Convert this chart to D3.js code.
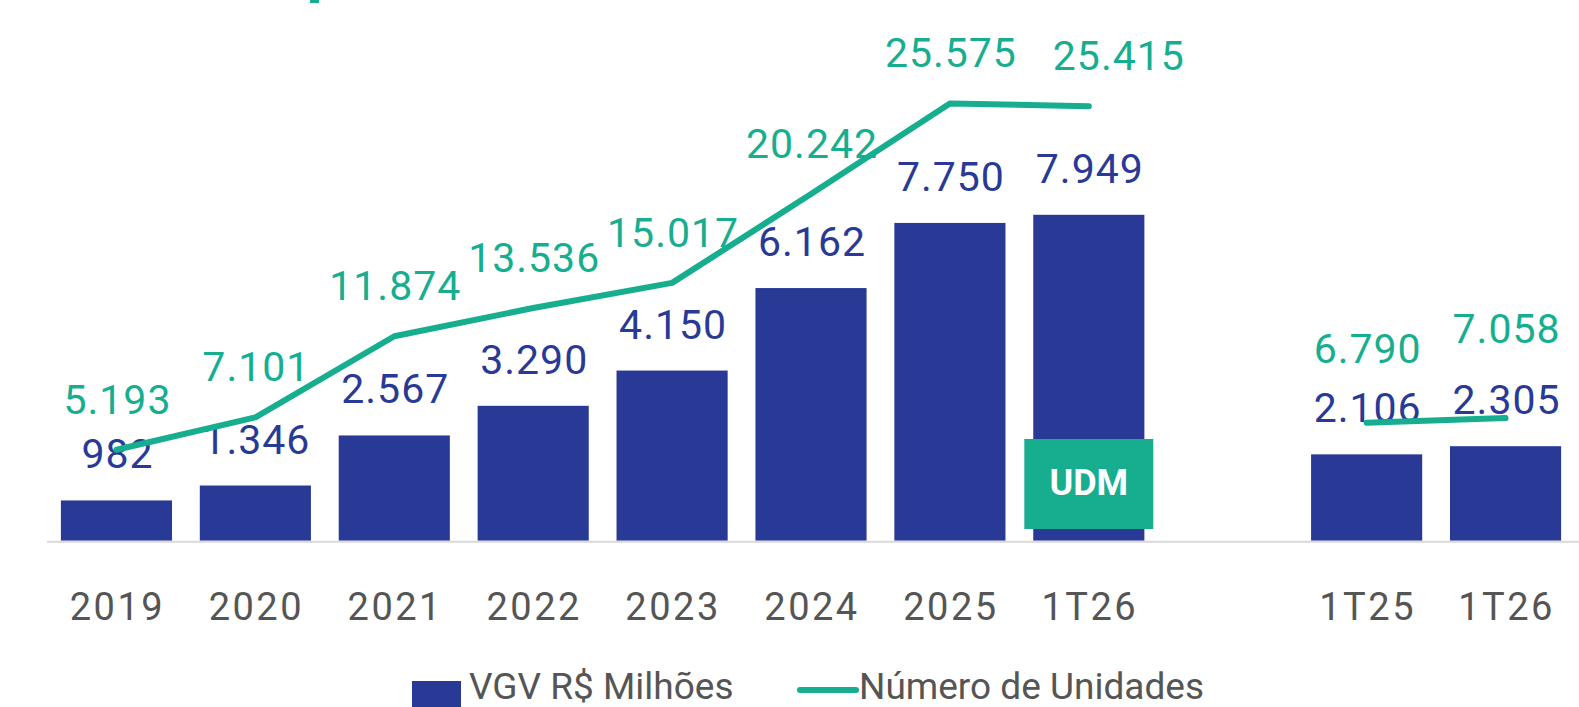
<!DOCTYPE html>
<html>
<head>
<meta charset="utf-8">
<script src="https://cdn.jsdelivr.net/npm/d3@7"></script>
<style>
  html, body { margin: 0; padding: 0; background: #fff; }
  text { font-family: Roboto, "Liberation Sans", sans-serif; }
</style>
</head>
<body>
<div id="chart"></div>
<script>
// categories (the "gap" slot separates the annual block from the quarters)
const keys = ['2019', '2020', '2021', '2022', '2023', '2024', '2025', '1T26-UDM', 'gap', '1T25', '1T26'];
const tickLabels = ['2019', '2020', '2021', '2022', '2023', '2024', '2025', '1T26', '', '1T25', '1T26'];
// VGV R$ Milhões
const vgv = [982, 1346, 2567, 3290, 4150, 6162, 7750, 7949, null, 2106, 2305];
// Número de Unidades
const units = [5193, 7101, 11874, 13536, 15017, 20242, 25575, 25415, null, 6790, 7058];

const navy = '#283a96';
const teal = '#16ae8f';
const grey = '#555555';

const width = 1579;
const height = 707;
const baseY = 540.7;

const fmt = d3.formatLocale({ decimal: ',', thousands: '.', grouping: [3], currency: ['R$', ''] }).format(',d');

const data = keys.map((k, i) => ({ key: k, label: tickLabels[i], vgv: vgv[i], units: units[i] }));

const svg = d3.select('#chart')
  .append('svg')
  .attr('width', width)
  .attr('height', height)
  .style('background', '#fff');

const x = d3.scaleBand()
  .domain(keys)
  .range([47, 1575])
  .paddingInner(0.2)
  .paddingOuter(0.1);

const yBar = d3.scaleLinear()
  .domain([0, 10000])
  .range([baseY, baseY - 410]);

const yLine = d3.scaleLinear()
  .domain([0, 30000])
  .range([538, 28.3]);

// little cut-off title mark at the very top
svg.append('rect')
  .attr('x', 310).attr('y', 0)
  .attr('width', 9).attr('height', 3)
  .attr('fill', teal);

// bars
svg.selectAll('.bar')
  .data(data.filter(d => d.vgv != null))
  .enter()
  .append('rect')
  .attr('class', 'bar')
  .attr('x', d => x(d.key))
  .attr('y', d => yBar(d.vgv))
  .attr('width', x.bandwidth())
  .attr('height', d => baseY - yBar(d.vgv))
  .attr('fill', navy);

// baseline
svg.append('line')
  .attr('x1', 47).attr('x2', width)
  .attr('y1', baseY + 1).attr('y2', baseY + 1)
  .attr('stroke', '#d9d9d9')
  .attr('stroke-width', 2);

// UDM tag on the trailing twelve months bar
const udmCx = x('1T26-UDM') + x.bandwidth() / 2;
svg.append('rect')
  .attr('x', udmCx - 64.5)
  .attr('y', 439)
  .attr('width', 129)
  .attr('height', 90)
  .attr('fill', teal);
svg.append('text')
  .attr('x', udmCx)
  .attr('y', 495)
  .attr('text-anchor', 'middle')
  .attr('fill', '#fff')
  .style('font-size', '36px')
  .style('font-weight', 'bold')
  .text('UDM');

// bar value labels
svg.selectAll('.vlabel')
  .data(data.filter(d => d.vgv != null))
  .enter()
  .append('text')
  .attr('class', 'vlabel')
  .attr('x', d => x(d.key) + x.bandwidth() / 2 + 1)
  .attr('y', d => yBar(d.vgv) - 32)
  .attr('text-anchor', 'middle')
  .attr('fill', navy)
  .style('font-size', '41px')
  .style('letter-spacing', '1px')
  .text(d => fmt(d.vgv));

// line value labels
const lift = { '1T25': 60, '1T26': 75 };
const shift = { '1T26-UDM': 29 };
svg.selectAll('.ulabel')
  .data(data.filter(d => d.units != null))
  .enter()
  .append('text')
  .attr('class', 'ulabel')
  .attr('x', d => x(d.key) + x.bandwidth() / 2 + 1 + (shift[d.key] || 0))
  .attr('y', d => yLine(d.units) - (lift[d.key] || 36))
  .attr('text-anchor', 'middle')
  .attr('fill', teal)
  .style('font-size', '41px')
  .style('letter-spacing', '1px')
  .text(d => fmt(d.units));

// units line (broken at the gap)
const line = d3.line()
  .defined(d => d.units != null)
  .x(d => x(d.key) + x.bandwidth() / 2)
  .y(d => yLine(d.units));

svg.append('path')
  .datum(data)
  .attr('d', line)
  .attr('fill', 'none')
  .attr('stroke', teal)
  .attr('stroke-width', 6)
  .attr('stroke-linecap', 'round')
  .attr('stroke-linejoin', 'round');

// x-axis labels
svg.append('g')
  .selectAll('.tick')
  .data(data.filter(d => d.label !== ''))
  .enter()
  .append('text')
  .attr('x', d => x(d.key) + x.bandwidth() / 2 + 1)
  .attr('y', 620)
  .attr('text-anchor', 'middle')
  .attr('fill', grey)
  .style('font-size', '38px')
  .style('letter-spacing', '2.5px')
  .text(d => d.label);

// legend
const legend = svg.append('g');
legend.append('rect')
  .attr('x', 412).attr('y', 681)
  .attr('width', 49).attr('height', 30)
  .attr('fill', navy);
legend.append('text')
  .attr('x', 469).attr('y', 699)
  .attr('fill', grey)
  .style('font-size', '37px')
  .text('VGV R$ Milhões');
legend.append('line')
  .attr('x1', 800).attr('x2', 856)
  .attr('y1', 690).attr('y2', 690)
  .attr('stroke', teal)
  .attr('stroke-width', 6)
  .attr('stroke-linecap', 'round');
legend.append('text')
  .attr('x', 859).attr('y', 699)
  .attr('fill', grey)
  .style('font-size', '37px')
  .text('Número de Unidades');
</script>
</body>
</html>
